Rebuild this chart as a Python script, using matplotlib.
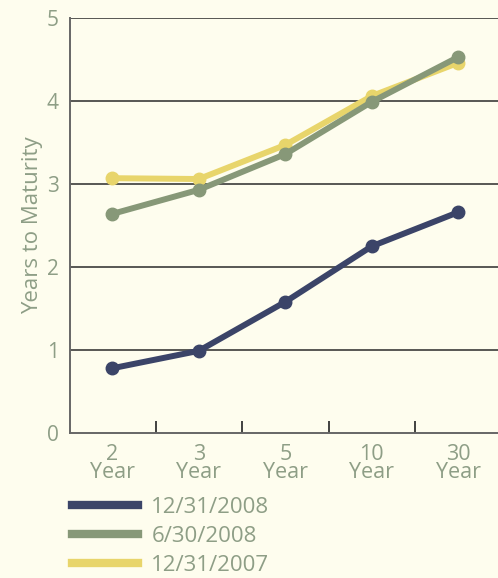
import matplotlib.pyplot as plt
from matplotlib.lines import Line2D

# Data
maturities = ['2\nYear', '3\nYear', '5\nYear', '10\nYear', '30\nYear']
dec_2008 = [0.78, 0.99, 1.58, 2.25, 2.66]
jun_2008 = [2.64, 2.93, 3.36, 3.99, 4.53]
dec_2007 = [3.07, 3.06, 3.47, 4.06, 4.46]
series_labels = ['12/31/2008', '6/30/2008', '12/31/2007']

bg = '#fefdee'
navy = '#3b4468'
green = '#879878'
yellow = '#e8d56b'
text_col = '#8e9e86'

plt.rcParams['font.family'] = ['Open Sans', 'DejaVu Sans']

fig = plt.figure(figsize=(4.98, 5.78), dpi=100, facecolor=bg)
ax = fig.add_axes([70 / 498, 1 - 433 / 578, 1 - 70 / 498, 415 / 578])
ax.set_facecolor(bg)

x = range(len(maturities))
ax.plot(x, dec_2007, color=yellow, lw=4.3, marker='o', ms=9, zorder=3)
ax.plot(x, jun_2008, color=green, lw=4.3, marker='o', ms=9, zorder=4)
ax.plot(x, dec_2008, color=navy, lw=4.3, marker='o', ms=9, zorder=5)

ax.set_xlim(-0.49, 4.46)
ax.set_ylim(0, 5)
ax.set_yticks(range(6))
for yv in range(1, 6):
    ax.axhline(yv, color='#2a2a2a', lw=1.1, zorder=1)

ax.set_xticks(list(x))
ax.set_xticklabels(maturities, linespacing=0.82)
ax.set_xticks([0.5, 1.5, 2.5, 3.5], minor=True)
ax.tick_params(axis='x', which='major', length=0, pad=8, labelsize=15.5, labelcolor=text_col)
ax.tick_params(axis='x', which='minor', direction='in', length=9, width=1.2, color='#222222')
ax.tick_params(axis='y', length=0, pad=8, labelsize=15, labelcolor=text_col)

for side in ['top', 'right']:
    ax.spines[side].set_visible(False)
ax.spines['left'].set_color('#666666')
ax.spines['left'].set_linewidth(1.4)
ax.spines['bottom'].set_color('#666666')
ax.spines['bottom'].set_linewidth(1.4)

ax.set_ylabel('Years to Maturity', fontsize=16, color=text_col, labelpad=3)

handles = [Line2D([], [], color=c, lw=6) for c in (navy, green, yellow)]
fig.legend(handles, series_labels, loc='upper left',
           bbox_to_anchor=(72 / 498, 1 - 497 / 578), frameon=False,
           fontsize=16, labelcolor=text_col, handlelength=2.95,
           handletextpad=0.62, labelspacing=0.36, borderpad=0, borderaxespad=0)

fig.savefig('out.png', dpi=100, facecolor=bg)
